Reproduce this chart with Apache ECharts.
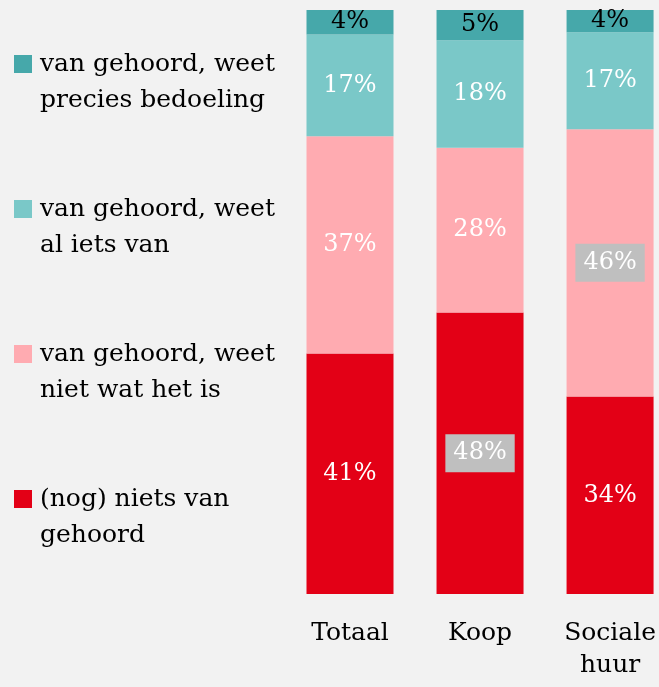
<!DOCTYPE html>
<html>
<head>
<meta charset="utf-8">
<script src="https://cdn.jsdelivr.net/npm/echarts@6/dist/echarts.min.js"></script>
<style>
  html, body { margin: 0; padding: 0; background: #f2f2f2; }
  #chart { width: 659px; height: 687px; }
</style>
</head>
<body>
<div id="chart"></div>
<script>
const categories = ['Totaal', 'Koop', 'Sociale\nhuur']
const seriesNames = [
  '(nog) niets van\ngehoord',
  'van gehoord, weet\nniet wat het is',
  'van gehoord, weet\nal iets van',
  'van gehoord, weet\nprecies bedoeling'
]
const nietsGehoord = [41.2, 48.2, 33.8]
const nietWatHetIs = [37.2, 28.2, 45.8]
const alIetsVan = [17.4, 18.4, 16.6]
const preciesBedoeling = [4.2, 5.2, 3.8]

const values = [nietsGehoord, nietWatHetIs, alIetsVan, preciesBedoeling]
const colors = ['#e30016', '#ffabb1', '#7ac8c8', '#46a8aa']
const textColors = ['#ffffff', '#ffffff', '#ffffff', '#000000']
// cells where the label sits in a grey box: [series, category]
const boxed = ['0-1', '1-2']

const FONT = 'DejaVu Serif'

const chart = echarts.init(document.getElementById('chart'))

const series = values.map((arr, si) => ({
  name: seriesNames[si],
  type: 'bar',
  stack: 'total',
  barWidth: 87,
  clip: false,
  itemStyle: { color: colors[si] },
  label: {
    show: true,
    position: 'inside',
    fontFamily: FONT,
    fontSize: 24,
    color: textColors[si],
    formatter: (p) => Math.round(p.value) + '%'
  },
  data: arr.map((v, ci) => {
    if (boxed.includes(si + '-' + ci)) {
      return {
        value: v,
        label: { backgroundColor: '#bfbfbf', padding: [7, 8, 7, 8] }
      }
    }
    return v
  })
}))

chart.setOption({
  backgroundColor: '#f2f2f2',
  animation: false,
  legend: {
    orient: 'vertical',
    left: 14,
    top: 10,
    padding: 0,
    itemWidth: 18,
    itemHeight: 18,
    itemGap: 37,
    icon: 'rect',
    selectedMode: false,
    data: seriesNames.slice().reverse(),
    // blank first line so the marker lines up with the first text line
    formatter: (name) => ' \n' + name,
    textStyle: {
      fontFamily: FONT,
      fontSize: 25,
      color: '#000',
      lineHeight: 36,
      padding: [0, 0, 0, 3]
    }
  },
  // bars sit on the ticks (boundaryGap false) so the last one can reach the edge
  grid: {
    left: 350,
    top: 10,
    width: 261,
    height: 584
  },
  xAxis: {
    type: 'category',
    data: categories,
    boundaryGap: false,
    axisLine: { show: false },
    axisTick: { show: false },
    splitLine: { show: false },
    axisLabel: {
      fontFamily: FONT,
      fontSize: 25,
      color: '#000',
      lineHeight: 32,
      margin: 23,
      verticalAlign: 'top'
    }
  },
  yAxis: {
    type: 'value',
    min: 0,
    max: 100,
    show: false
  },
  series: series
})
</script>
</body>
</html>
